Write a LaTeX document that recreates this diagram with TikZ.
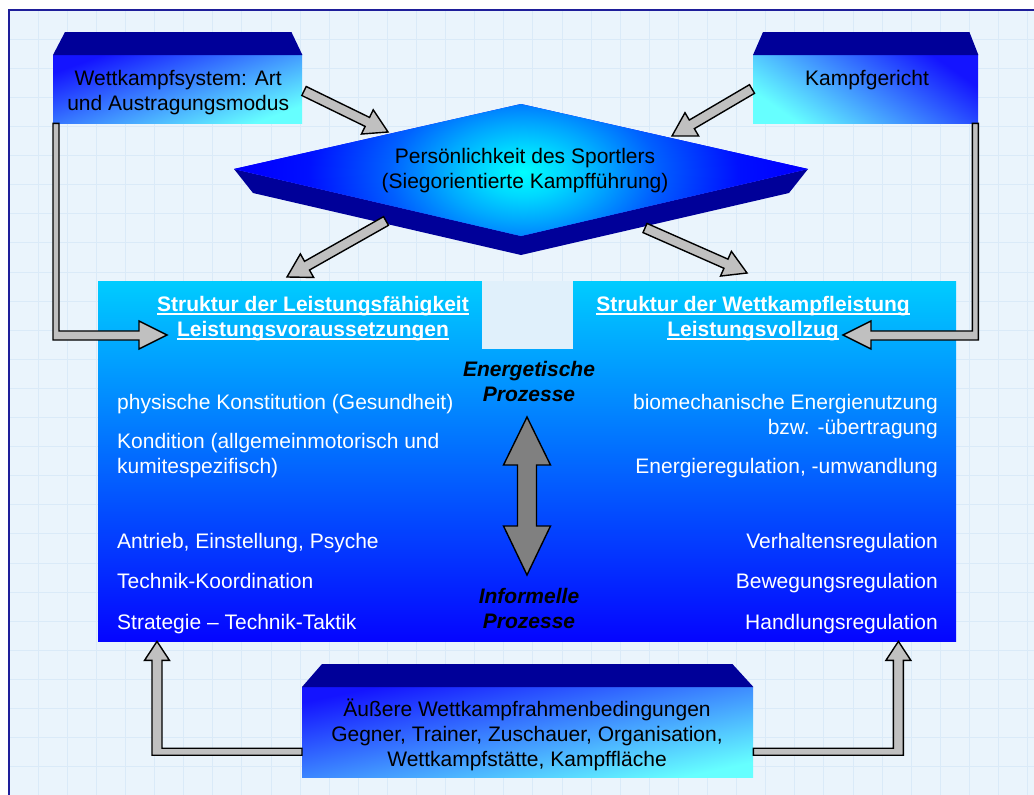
\documentclass[tikz,border=0pt]{standalone}
\usepackage{fontspec}
\setmainfont{Liberation Sans}
\usetikzlibrary{calc}

\definecolor{bg}{HTML}{EAF4FC}
\definecolor{gridc}{HTML}{DAEAF8}
\definecolor{framec}{HTML}{1E1E9A}
\definecolor{navy}{HTML}{000099}
\definecolor{deepblue}{HTML}{1414FF}
\definecolor{lightcyan}{HTML}{66FFFF}
\definecolor{skycyan}{HTML}{00CCFF}
\definecolor{pureblue}{HTML}{0505FF}
\definecolor{arrowgray}{HTML}{C0C0C0}
\definecolor{midgray}{HTML}{808080}
\definecolor{gapfill}{HTML}{E0F0FB}
\definecolor{glowa}{HTML}{00D8FF}
\definecolor{glowb}{HTML}{00A8FF}
\definecolor{glowc}{HTML}{0060FF}
\definecolor{glowd}{HTML}{0010FF}

% glowing centre of the diamond
\pgfdeclareradialshading{diamondglow}{\pgfpoint{0bp}{0bp}}{%
  color(0bp)=(cyan); color(3.4bp)=(glowa); color(6.7bp)=(glowb); color(11.2bp)=(glowc);
  color(17.9bp)=(glowd); color(22.4bp)=(blue); color(50bp)=(blue)}

\newcommand\bodyfont{\fontsize{21}{25}\selectfont\lineskiplimit=-100pt\relax}
% underline at a fixed distance below the baseline
\newcommand\ulx[1]{\setbox0\hbox{#1}\rlap{\rule[-4.2pt]{\wd0}{1.8pt}}\box0}

\tikzset{
  txt/.style={inner sep=0pt, font=\bodyfont, align=center},
  wtxt/.style={txt, text=white},
  headtxt/.style={wtxt, font=\bodyfont\bfseries},
  proctxt/.style={txt, font=\bodyfont\bfseries\itshape},
  frontbox/.style={inner sep=0pt, anchor=north west, top color=deepblue, bottom color=lightcyan},
  arrowfill/.style={fill=arrowgray, draw=black, line width=1.4pt, line join=miter},
}

% block arrow with a straight shaft from #1 to the tip #2
\newcommand\blockarrow[2]{%
  \coordinate (hb) at ($(#2)!23pt!(#1)$);
  \draw[arrowfill] ($(#1)!5pt!90:(#2)$) -- ($(hb)!5pt!90:(#2)$) -- ($(hb)!13.5pt!90:(#2)$)
    -- (#2) -- ($(hb)!13.5pt!-90:(#2)$) -- ($(hb)!5pt!-90:(#2)$) -- ($(#1)!5pt!-90:(#2)$) -- cycle;}

\begin{document}
\begin{tikzpicture}[x=1pt,y=-1pt]
\useasboundingbox (0,0) rectangle (1034,795);
\fill[white] (0,0) rectangle (1034,795);
\fill[bg] (9,10) rectangle (1034,795);
\foreach \i in {1,...,35} \draw[gridc, line width=0.7pt] ({9+29.1*\i},10) -- ({9+29.1*\i},795);
\foreach \j in {1,...,27} \draw[gridc, line width=0.7pt] (9,{10+29.1*\j}) -- (1034,{10+29.1*\j});
\draw[framec, line width=1.5pt] (1040,10) -- (9,10) -- (9,800);

% central structure box with the notch at its top
\node[inner sep=0pt, anchor=north west, top color=skycyan, bottom color=pureblue,
      minimum width=858, minimum height=360] (main) at (98,281) {};
\node[inner sep=0pt, anchor=north west, fill=gapfill, minimum width=91, minimum height=68] (gap) at (482,281) {};

% three-dimensional boxes
\node[frontbox, shading angle=20, minimum width=249, minimum height=68] (ws) at (53,55) {};
\fill[navy] (ws.north west) -- ++(12,-23) -- ($(ws.north east)+(-11,-23)$) -- (ws.north east) -- cycle;

\node[frontbox, shading angle=-35, minimum width=225, minimum height=68] (kg) at (753,55) {};
\fill[navy] (kg.north west) -- ++(10,-23) -- ($(kg.north east)+(-9,-23)$) -- (kg.north east) -- cycle;

\node[frontbox, shading angle=12, minimum width=451, minimum height=90] (ext) at (302,687) {};
\fill[navy] (ext.north west) -- ++(20,-23) -- ($(ext.north east)+(-21,-23)$) -- (ext.north east) -- cycle;

% diamond with its lower rim
\coordinate (dl) at (234,169);
\coordinate (dt) at (521,104);
\coordinate (dr) at (808,169);
\coordinate (db) at (521,236);
\coordinate (dll) at (253,193);
\coordinate (dbb) at (521,255);
\coordinate (drr) at (789,193);
\coordinate (glow) at (523,172);
\fill[navy] (dl) -- (dll) -- (dbb) -- (drr) -- (dr) -- (db) -- cycle;
\begin{scope}
  \clip (dl) -- (dt) -- (dr) -- (db) -- cycle;
  \fill[blue] (dl) -- (dt) -- (dr) -- (db) -- cycle;
  \shade[shading=diamondglow] ($(glow)+(-300,-180)$) rectangle ($(glow)+(300,180)$);
\end{scope}

% elbow arrows from the outer boxes to the central box
\coordinate (t1) at (167,335);
\draw[arrowfill] (ws.south west) -- ($(ws.south west|-t1)+(0,5)$) -- ($(t1)+(-28,5)$) -- ($(t1)+(-28,14)$)
  -- (t1) -- ($(t1)+(-28,-14)$) -- ($(t1)+(-28,-4)$) -- ($(ws.south west|-t1)+(6,-4)$) -- ($(ws.south west)+(6,0)$) -- cycle;
\coordinate (t2) at (843,335);
\draw[arrowfill] (kg.south east) -- ($(kg.south east|-t2)+(0,5)$) -- ($(t2)+(28,5)$) -- ($(t2)+(28,14)$)
  -- (t2) -- ($(t2)+(28,-14)$) -- ($(t2)+(28,-4)$) -- ($(kg.south east|-t2)+(-6,-4)$) -- ($(kg.south east)+(-6,0)$) -- cycle;
\coordinate (t3) at ($(main.south west)+(59,0)$);
\coordinate (b3) at ($(ext.west)+(0,19.5)$);
\draw[arrowfill] ($(b3)+(0,-3.5)$) -- ($(t3|-b3)+(5,-3.5)$) -- ($(t3)+(5,19)$) -- ($(t3)+(12.5,19)$)
  -- (t3) -- ($(t3)+(-12.5,19)$) -- ($(t3)+(-5,19)$) -- ($(t3|-b3)+(-5,3.5)$) -- ($(b3)+(0,3.5)$) -- cycle;
\coordinate (t4) at ($(main.south east)+(-58,0)$);
\coordinate (b4) at ($(ext.east)+(0,19.5)$);
\draw[arrowfill] ($(b4)+(0,-3.5)$) -- ($(t4|-b4)+(-5,-3.5)$) -- ($(t4)+(-5,19)$) -- ($(t4)+(-12.5,19)$)
  -- (t4) -- ($(t4)+(12.5,19)$) -- ($(t4)+(5,19)$) -- ($(t4|-b4)+(5,3.5)$) -- ($(b4)+(0,3.5)$) -- cycle;

% diagonal arrows around the diamond
\coordinate (a1s) at (304,91);  \coordinate (a1t) at (388,132);
\coordinate (a2s) at (752,89);  \coordinate (a2t) at (672,136);
\coordinate (a3s) at (386,221); \coordinate (a3t) at (287,277);
\coordinate (a4s) at (645,228); \coordinate (a4t) at (747,273);
\blockarrow{a1s}{a1t}
\blockarrow{a2s}{a2t}
\blockarrow{a3s}{a3t}
\blockarrow{a4s}{a4t}

% double arrow between the two process labels
\coordinate (eup) at (527,417);
\coordinate (edn) at (527,575);
\draw[fill=midgray, draw=black, line width=1.4pt] (eup) -- ($(eup)+(23.5,48)$) -- ($(eup)+(9.5,48)$)
  -- ($(edn)+(9.5,-49)$) -- ($(edn)+(23.5,-49)$) -- (edn) -- ($(edn)+(-23.5,-49)$) -- ($(edn)+(-9.5,-49)$)
  -- ($(eup)+(-9.5,48)$) -- ($(eup)+(-23.5,48)$) -- cycle;

% labels of the boxes
\node[txt] (wslabel) at ($(ws.center)+(0.5,3.5)$) {\strut Wettkampfsystem: Art\\\strut und Austragungsmodus};
\node[txt, anchor=base] (kglabel) at (867,85) {Kampfgericht};
\node[txt] (dlabel) at (525,171) {\strut Persönlichkeit des Sportlers\\\strut (Siegorientierte Kampfführung)};
\node[txt] (extlabel) at (527,736) {\strut Äußere Wettkampfrahmenbedingungen\\\strut Gegner, Trainer, Zuschauer, Organisation,\\\strut Wettkampfstätte, Kampffläche};

% headings of the central box
\node[headtxt] (lhead) at (313,318.5) {\strut\ulx{Struktur der Leistungsfähigkeit}\\\strut\ulx{Leistungsvoraussetzungen}};
\node[headtxt] (rhead) at (753,318.5) {\strut\ulx{Struktur der Wettkampfleistung}\\\strut\ulx{Leistungsvollzug}};

% process labels
\node[proctxt] (energ) at (529,383.5) {\strut Energetische\\\strut Prozesse};
\node[proctxt] (inform) at (529,610.5) {\strut Informelle\\\strut Prozesse};

% left column
\node[wtxt, anchor=base west] (l1) at (117,409) {physische Konstitution (Gesundheit)};
\node[wtxt, anchor=west, align=left] (l2) at (117,455.5) {\strut Kondition (allgemeinmotorisch und\\\strut kumitespezifisch)};
\node[wtxt, anchor=base west] (l3) at (117,548) {Antrieb, Einstellung, Psyche};
\node[wtxt, anchor=base west] (l4) at (117,588) {Technik-Koordination};
\node[wtxt, anchor=base west] (l5) at (117,629) {Strategie – Technik-Taktik};

% right column
\node[wtxt, anchor=east, align=right] (r1) at (938,416.5) {\strut biomechanische Energienutzung\\\strut bzw. -übertragung};
\node[wtxt, anchor=base east] (r2) at (938,473) {Energieregulation, -umwandlung};
\node[wtxt, anchor=base east] (r3) at (938,548) {Verhaltensregulation};
\node[wtxt, anchor=base east] (r4) at (938,588) {Bewegungsregulation};
\node[wtxt, anchor=base east] (r5) at (938,629) {Handlungsregulation};
\end{tikzpicture}
\end{document}
